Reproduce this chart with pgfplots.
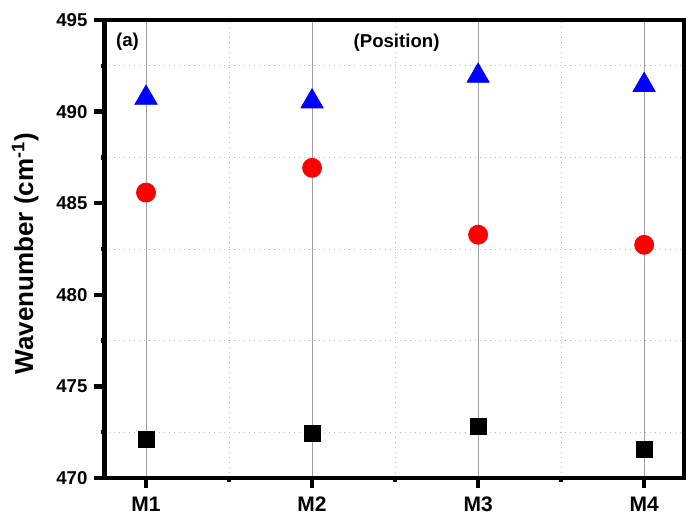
\documentclass[border=0pt]{standalone}
\usepackage{fontspec}
\setmainfont{Liberation Sans}
\usepackage{pgfplots}
\pgfplotsset{compat=1.18}
\begin{document}
\begin{tikzpicture}
\begin{axis}[
  name=ax,
  scale only axis,
  width=289.75pt, height=229pt,
  xmin=0.75, xmax=4.24,
  ymin=470, ymax=495,
  xtick={1,2,3,4},
  xticklabels={M1,M2,M3,M4},
  ytick={470,475,480,485,490,495},
  minor x tick num=1,
  minor y tick num=1,
  xtick pos=bottom, ytick pos=left,
  tick align=outside,
  major tick length=5pt,
  minor tick length=1.8pt,
  every tick/.style={black, line width=2.2pt},
  axis line style={line width=2.2pt},
  xmajorgrids, xminorgrids, yminorgrids,
  major grid style={gray!75, line width=0.5pt, solid},
  minor grid style={gray!55, line width=0.5pt, dotted},
  /pgf/number format/assume math mode=true,
  yticklabel style={font=\bfseries\fontsize{9.3}{10}\selectfont},
  xticklabel style={font=\bfseries\fontsize{10.5}{12}\selectfont, yshift=-1pt},
  ylabel={Wavenumber (cm\textsuperscript{-1})},
  ylabel style={font=\bfseries\fontsize{13}{15}\selectfont, at={(axis description cs:-0.137,0.49)}, anchor=center},
]
\addplot[only marks, mark=square*, mark size=4pt, black] coordinates {
  (1,472.1) (2,472.45) (3,472.8) (4,471.58)
};
\addplot[only marks, mark=*, mark size=4.75pt, red] coordinates {
  (1,485.58) (2,486.93) (3,483.28) (4,482.73)
};
\addplot[only marks, mark=triangle*, mark size=6.4pt, blue] coordinates {
  (1,490.75) (2,490.55) (3,491.95) (4,491.45)
};
\node[anchor=west, font=\bfseries\fontsize{9.3}{10}\selectfont] at (rel axis cs:0.008,0.952) {(a)};
\node[anchor=center, font=\bfseries\fontsize{9.3}{10}\selectfont] at (rel axis cs:0.504,0.95) {(Position)};
\end{axis}
\pgfresetboundingbox
\path (ax.south west) ++(-52.25pt,-21.5pt) rectangle ++(343.5pt,260.5pt);
\end{tikzpicture}
\end{document}
